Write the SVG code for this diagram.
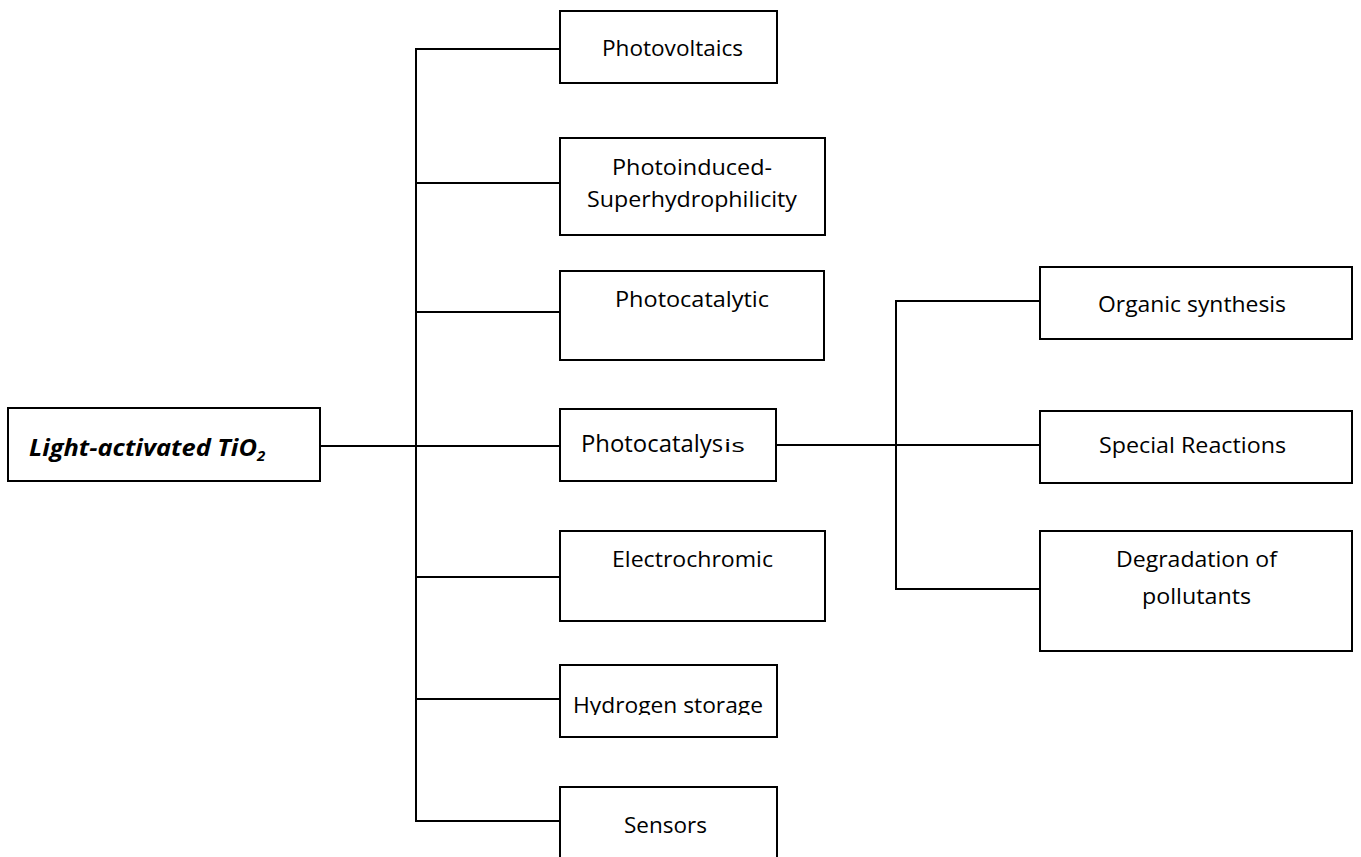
<svg xmlns="http://www.w3.org/2000/svg" width="1361" height="857" viewBox="0 0 1361 857">
<style>
.box{fill:#fff;stroke:#000;stroke-width:2}
.ln{fill:none;stroke:#000;stroke-width:2}
text{font-family:"Open Sans","Liberation Sans",sans-serif;font-size:21.5px;fill:#000}
.main{font-weight:bold;font-style:italic;font-size:23px}
</style>
<defs>
<clipPath id="hclip"><rect x="561" y="666" width="215" height="49"/></clipPath>
</defs>
<rect width="1361" height="857" fill="#fff"/>
<g id="connectors">
<line class="ln" x1="320" y1="446" x2="560" y2="446"/>
<polyline class="ln" points="560,49 416,49 416,821 560,821"/>
<line class="ln" x1="416" y1="183" x2="560" y2="183"/>
<line class="ln" x1="416" y1="312" x2="560" y2="312"/>
<line class="ln" x1="416" y1="577" x2="560" y2="577"/>
<line class="ln" x1="416" y1="699" x2="560" y2="699"/>
<line class="ln" x1="776" y1="445" x2="1040" y2="445"/>
<polyline class="ln" points="1040,301 896,301 896,589 1040,589"/>
</g>
<g id="n-main">
<rect class="box" x="8" y="408" width="312" height="73"/>
<text class="main" x="29" y="456" textLength="228" lengthAdjust="spacingAndGlyphs">Light-activated TiO</text>
<text class="main" x="257" y="461" style="font-size:15px">2</text>
</g>
<g id="n-photovoltaics">
<rect class="box" x="560" y="11" width="217" height="72"/>
<text x="602" y="56" textLength="141" lengthAdjust="spacingAndGlyphs">Photovoltaics</text>
</g>
<g id="n-photoinduced">
<rect class="box" x="560" y="138" width="265" height="97"/>
<text x="612" y="175" textLength="160" lengthAdjust="spacingAndGlyphs">Photoinduced-</text>
<text x="587" y="207" textLength="210" lengthAdjust="spacingAndGlyphs">Superhydrophilicity</text>
</g>
<g id="n-photocatalytic">
<rect class="box" x="560" y="271" width="264" height="89"/>
<text x="615" y="307" textLength="154" lengthAdjust="spacingAndGlyphs">Photocatalytic</text>
</g>
<g id="n-photocatalysis">
<rect class="box" x="560" y="409" width="216" height="72"/>
<text x="581" y="452" style="font-size:24px" textLength="142" lengthAdjust="spacingAndGlyphs">Photocatalys</text>
<text x="724" y="452" style="font-size:19px" textLength="21" lengthAdjust="spacingAndGlyphs">is</text>
</g>
<g id="n-electrochromic">
<rect class="box" x="560" y="531" width="265" height="90"/>
<text x="612" y="567" textLength="161" lengthAdjust="spacingAndGlyphs">Electrochromic</text>
</g>
<g id="n-hydrogen">
<rect class="box" x="560" y="665" width="217" height="72"/>
<text x="573" y="713" textLength="190" lengthAdjust="spacingAndGlyphs" clip-path="url(#hclip)">Hydrogen storage</text>
</g>
<g id="n-sensors">
<rect class="box" x="560" y="787" width="217" height="90"/>
<text x="624" y="833" textLength="83" lengthAdjust="spacingAndGlyphs">Sensors</text>
</g>
<g id="n-organic">
<rect class="box" x="1040" y="267" width="312" height="72"/>
<text x="1098" y="312" textLength="188" lengthAdjust="spacingAndGlyphs">Organic synthesis</text>
</g>
<g id="n-special">
<rect class="box" x="1040" y="411" width="312" height="72"/>
<text x="1099" y="453" textLength="187" lengthAdjust="spacingAndGlyphs">Special Reactions</text>
</g>
<g id="n-degradation">
<rect class="box" x="1040" y="531" width="312" height="120"/>
<text x="1116" y="567" textLength="161" lengthAdjust="spacingAndGlyphs">Degradation of</text>
<text x="1142" y="604" textLength="109" lengthAdjust="spacingAndGlyphs">pollutants</text>
</g>
</svg>
